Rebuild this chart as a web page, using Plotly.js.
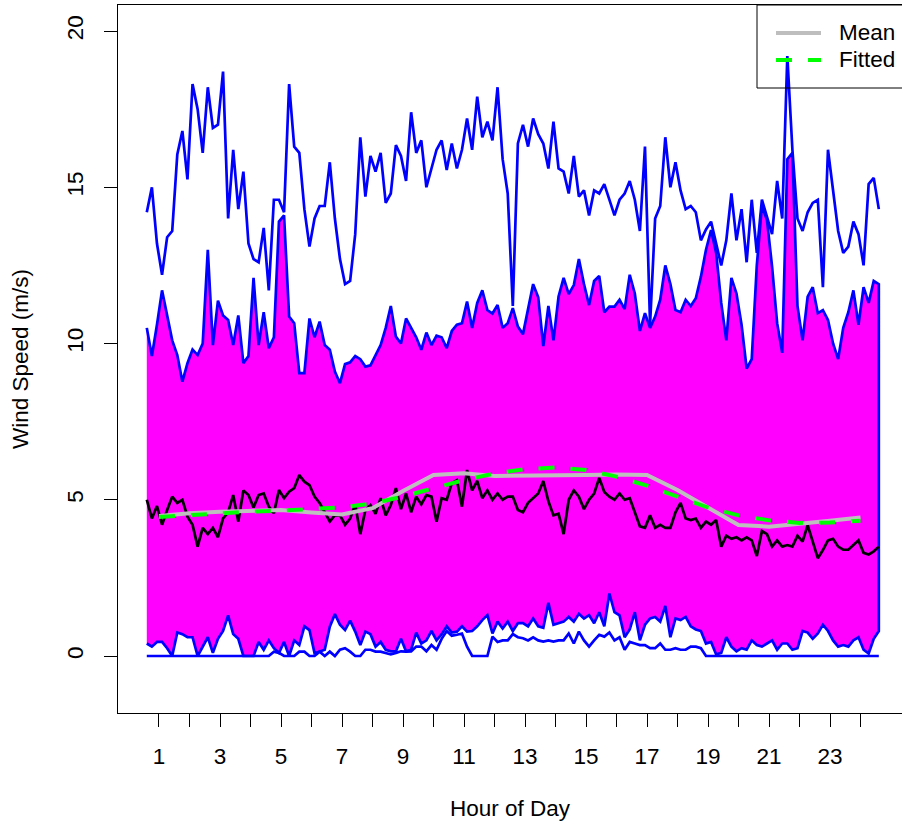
<!DOCTYPE html>
<html>
<head>
<meta charset="utf-8">
<script src="https://cdn.plot.ly/plotly-3.0.1.min.js"></script>
<style>
html, body { margin: 0; padding: 0; background: #ffffff; }
#chart { width: 902px; height: 825px; }
</style>
</head>
<body>
<div id="chart"></div>
<script>
// ---- data (10-minute profile, first sample at hour 0.6) ----
const startHour = 0.6;
const stepHour = 1 / 6;

const maxWind = [14.2,15.0,13.2,12.2,13.4,13.6,16.05,16.8,15.25,18.3,17.5,16.1,18.2,16.9,17.0,18.7,14.0,16.2,14.3,15.5,
  13.2,12.7,12.6,13.7,11.7,14.6,14.6,14.2,18.3,16.3,16.1,14.3,13.1,14.0,14.4,14.4,15.8,14.0,12.7,11.9,
  12.0,13.5,16.6,14.7,16.0,15.5,16.1,14.5,14.8,16.35,16.0,15.2,17.4,16.1,16.5,15.0,15.6,16.2,16.5,15.55,
  16.4,15.6,16.2,17.2,16.2,17.9,16.6,17.1,16.5,18.2,15.9,14.8,11.2,16.4,17.0,16.3,17.2,16.7,16.4,15.6,
  17.1,15.6,15.5,14.8,16.0,14.7,14.9,14.1,14.9,14.8,15.1,14.6,14.1,14.6,14.8,15.2,14.6,13.6,16.3,10.6,
  14.0,14.4,16.6,15.0,15.8,14.9,14.3,14.4,14.2,13.3,13.65,13.9,13.2,12.5,13.3,14.8,13.3,14.3,12.6,14.6,
  12.9,14.6,14.05,13.5,15.2,14.0,19.2,16.2,14.0,13.6,14.2,14.5,14.6,11.8,16.2,14.9,13.6,12.9,13.1,13.9,
  13.5,12.5,15.1,15.3,14.3];

const highPct = [10.5,9.6,10.6,11.7,10.9,10.1,9.63,8.78,9.37,9.81,9.63,10.0,13.0,9.95,11.37,10.9,10.75,9.95,10.9,9.37,
  9.6,12.1,9.95,11.0,9.85,10.2,13.9,14.1,10.86,10.65,9.05,9.05,10.8,10.2,10.7,9.95,9.8,9.1,8.73,9.34,
  9.4,9.6,9.5,9.26,9.3,9.6,9.95,10.5,11.2,10.22,10.0,10.8,10.5,10.2,9.8,10.35,9.95,10.25,10.2,9.85,
  10.4,10.6,10.65,11.34,10.5,11.3,11.7,11.07,10.96,11.23,10.5,10.65,11.13,10.54,10.3,11.07,11.9,11.48,9.92,11.2,
  10.1,11.5,12.1,11.58,11.87,12.7,11.9,11.23,12.0,12.16,11.0,11.18,11.18,11.4,11.1,12.2,11.6,10.4,10.97,10.5,
  10.86,11.4,12.5,11.9,11.07,11.0,11.4,11.2,11.45,12.14,13.0,13.63,12.9,11.3,10.1,12.1,11.6,10.6,9.2,9.5,
  12.5,14.4,13.95,12.46,10.65,9.7,15.9,16.1,11.2,10.1,11.5,11.8,10.97,11.07,10.75,10.0,9.5,10.5,11.0,11.7,
  10.6,11.8,11.3,12.0,11.9];

const medianWind = [5.0,4.4,4.8,4.2,4.67,5.1,4.9,5.0,4.46,4.2,3.5,4.1,3.9,4.1,3.8,4.4,4.6,5.15,4.3,5.3,
  5.15,4.75,5.15,5.2,4.78,4.57,5.31,5.05,5.26,5.37,5.79,5.58,5.47,5.1,4.9,4.62,4.3,4.51,4.5,4.2,
  4.4,4.85,3.9,4.67,4.83,4.55,5.05,4.5,4.83,5.37,4.7,5.2,4.6,5.1,4.85,5.15,5.1,4.3,5.05,5.0,
  5.53,5.63,4.78,5.95,5.3,5.6,5.05,5.3,5.0,5.2,5.0,5.1,5.1,4.67,4.6,4.9,5.05,5.2,5.6,4.95,
  4.5,4.55,3.9,5.0,5.3,5.1,4.7,5.0,5.2,5.7,5.25,5.1,5.0,5.2,5.0,5.05,4.6,4.15,4.1,4.5,
  4.1,4.2,4.1,4.1,4.6,4.9,4.4,4.35,4.4,4.1,4.3,4.2,4.35,3.5,3.85,3.75,3.8,3.7,3.8,3.7,
  3.2,4.0,3.9,3.5,3.7,3.5,3.55,3.5,3.85,3.66,4.19,3.66,3.13,3.39,3.7,3.75,3.5,3.4,3.4,3.55,
  3.7,3.3,3.25,3.35,3.5];

const lowPct = [0.4,0.3,0.45,0.45,0.25,0.0,0.75,0.7,0.6,0.6,0.0,0.3,0.6,0.1,0.55,0.8,1.3,0.7,0.55,0.0,
  0.0,0.0,0.45,0.2,0.5,0.25,0.1,0.45,0.0,0.5,0.35,0.95,0.83,0.09,0.14,0.2,0.94,1.34,1.0,0.83,
  1.13,0.78,0.35,0.78,0.7,0.3,0.45,0.2,0.15,0.15,0.55,0.15,0.2,0.75,0.4,0.5,0.8,0.5,0.7,0.95,
  0.75,0.78,0.95,0.78,0.8,0.95,1.15,1.31,0.72,1.1,0.88,1.1,0.8,1.05,1.05,0.95,1.2,0.95,0.9,1.7,
  1.0,1.05,1.1,1.25,1.1,1.35,1.2,1.31,1.05,1.4,0.95,2.0,1.4,1.3,0.6,0.85,1.4,0.5,1.0,1.2,
  1.25,1.1,1.6,0.6,1.2,1.15,1.25,0.95,0.85,0.8,0.4,0.45,0.05,0.1,0.6,0.3,0.15,0.25,0.2,0.5,
  0.35,0.3,0.4,0.5,0.2,0.4,0.4,0.2,0.25,0.8,0.75,0.55,0.72,1.0,0.8,0.5,0.3,0.35,0.3,0.5,
  0.6,0.2,0.08,0.55,0.8];

const minWind = [0,0,0,0,0,0,0,0,0,0,0,0,0,0,0,0,0,0,0,0,
  0,0,0,0,0,0.14,0.1,0,0,0,0.14,0.14,0,0,0.14,0,0.14,0,0.2,0.25,
  0.14,0,0,0.2,0.2,0.14,0.14,0.1,0.05,0.1,0.15,0.14,0.15,0.3,0.3,0.15,0.35,0.2,0.55,0.8,
  0.65,0.68,0.72,0.3,0,0,0,0,0.62,0.45,0.5,0.5,0.7,0.6,0.57,0.5,0.6,0.5,0.46,0.5,
  0.46,0.5,0.5,0.72,0.4,0.78,0.5,0.3,0.5,0.68,0.62,0.75,0.5,0.6,0.2,0.45,0.4,0.35,0.35,0.25,
  0.25,0.4,0.2,0.2,0.25,0.2,0.2,0.3,0.3,0.25,0,0,0,0,0,0,0,0,0,0,
  0,0,0,0,0,0,0,0,0,0,0,0,0,0,0,0,0,0,0,0,
  0,0,0,0,0];

const meanHours = [1,2,3,4,5,6,7,8,9,10,11,12,13,14,15,16,17,18,19,20,21,22,23,24];
const meanWind = [4.48,4.57,4.62,4.65,4.67,4.59,4.53,4.73,5.28,5.79,5.85,5.76,5.76,5.77,5.79,5.81,5.79,5.31,4.76,4.19,4.14,4.25,4.33,4.43];
const fittedWind = [4.45,4.51,4.57,4.62,4.65,4.69,4.76,4.88,5.1,5.37,5.63,5.84,5.98,6.03,5.95,5.74,5.45,5.1,4.75,4.5,4.34,4.26,4.27,4.33];

const tickHours = [1,2,3,4,5,6,7,8,9,10,11,12,13,14,15,16,17,18,19,20,21,22,23,24];
const hourLabels = ['1','','3','','5','','7','','9','','11','','13','','15','','17','','19','','21','','23',''];
const speedTicks = [0,5,10,15,20];
const legendNames = ['Mean', 'Fitted'];

// ---- build traces ----
const hours = maxWind.map((_, i) => startHour + i * stepHour);
const bandX = hours.concat(hours.slice().reverse());
const bandY = highPct.concat(lowPct.slice().reverse());

const BLUE = '#0000FF', MAGENTA = '#FF00FF', GRAY = '#BEBEBE', GREEN = '#00FF00';
const FONT = 'Liberation Sans, Arial, Helvetica, sans-serif';
const FS = 22.5;

const traces = [
  { x: bandX, y: bandY, mode: 'lines', fill: 'toself', fillcolor: MAGENTA,
    line: { color: BLUE, width: 2.7 }, hoverinfo: 'skip' },
  { x: hours, y: maxWind, mode: 'lines', line: { color: BLUE, width: 2.7 }, hoverinfo: 'skip' },
  { x: hours, y: minWind, mode: 'lines', line: { color: BLUE, width: 2.7 }, hoverinfo: 'skip' },
  { x: hours, y: medianWind, mode: 'lines', line: { color: '#000000', width: 2.7 }, hoverinfo: 'skip' },
  { x: meanHours, y: meanWind, mode: 'lines', name: legendNames[0], line: { color: GRAY, width: 4 }, hoverinfo: 'skip' },
  { x: meanHours, y: fittedWind, mode: 'lines', name: legendNames[1], line: { color: GREEN, width: 4, dash: '16px,16px' }, hoverinfo: 'skip' }
];

// plot area in pixels: left 118, top 5, bottom 713, right edge beyond 902
const L = 118, T = 5, B = 713, W = 902;
const px = v => (v - L) / (W - L);
const py = v => (B - v) / (B - T);

const layout = {
  width: 902, height: 825,
  margin: { l: L, r: 0, t: T, b: 825 - B, pad: 0 },
  paper_bgcolor: '#ffffff', plot_bgcolor: '#ffffff',
  showlegend: false,
  font: { family: FONT, size: FS, color: '#000000' },
  xaxis: {
    range: [-0.344, 25.36], showgrid: false, zeroline: false,
    showline: true, mirror: true, linecolor: '#000000', linewidth: 1,
    ticks: 'outside', ticklen: 13, tickwidth: 1, tickcolor: '#000000',
    tickmode: 'array', tickvals: tickHours, ticktext: hourLabels,
    ticklabelstandoff: 10,
    tickfont: { family: FONT, size: FS },
    title: { text: 'Hour of Day', font: { family: FONT, size: FS }, standoff: 32 },
    automargin: false
  },
  yaxis: {
    range: [-1.824, 20.832], showgrid: false, zeroline: false,
    showline: true, mirror: false, linecolor: '#000000', linewidth: 1,
    ticks: 'outside', ticklen: 13, tickwidth: 1, tickcolor: '#000000',
    tickmode: 'array', tickvals: speedTicks, tickangle: -90,
    ticklabelstandoff: 12,
    tickfont: { family: FONT, size: FS },
    title: { text: 'Wind Speed (m/s)', font: { family: FONT, size: FS }, standoff: 28 },
    automargin: false
  },
  shapes: [
    { type: 'rect', xref: 'paper', yref: 'paper', x0: px(757), x1: px(915), y0: py(88), y1: py(5),
      line: { color: '#000000', width: 1 }, fillcolor: 'rgba(0,0,0,0)', layer: 'above' },
    { type: 'line', xref: 'paper', yref: 'paper', x0: px(776), x1: px(821), y0: py(33), y1: py(33),
      line: { color: GRAY, width: 4 }, layer: 'above' },
    { type: 'line', xref: 'paper', yref: 'paper', x0: px(776), x1: px(821), y0: py(60), y1: py(60),
      line: { color: GREEN, width: 4, dash: '16px,16px' }, layer: 'above' }
  ],
  annotations: [
    { xref: 'paper', yref: 'paper', x: px(837), y: py(33), xanchor: 'left', yanchor: 'middle',
      text: legendNames[0], showarrow: false, font: { family: FONT, size: FS, color: '#000000' } },
    { xref: 'paper', yref: 'paper', x: px(837), y: py(60), xanchor: 'left', yanchor: 'middle',
      text: legendNames[1], showarrow: false, font: { family: FONT, size: FS, color: '#000000' } }
  ]
};

Plotly.newPlot('chart', traces, layout, { staticPlot: true, displayModeBar: false });
</script>
</body>
</html>
